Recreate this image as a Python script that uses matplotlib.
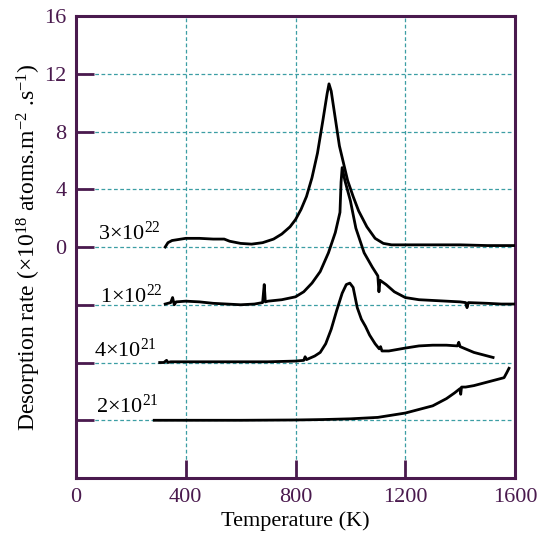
import numpy as np
import matplotlib
matplotlib.use("Agg")
import matplotlib.pyplot as plt

plt.rcParams['font.family'] = ['Liberation Serif', 'DejaVu Serif']
plt.rcParams['mathtext.fontset'] = 'custom'
plt.rcParams['mathtext.rm'] = 'Liberation Serif'
plt.rcParams['mathtext.it'] = 'Liberation Serif:italic'

# fluence labels and the vertical offset each curve is shifted by
labels = [r'3$\times$10$^{22}$', r'1$\times$10$^{22}$', r'4$\times$10$^{21}$', r'2$\times$10$^{21}$']
offsets = [0, -4, -8, -12]

# 3x10^22
t1 = [325, 335, 350, 400, 450, 500, 540, 560, 600, 640, 680, 720, 750, 780, 800, 820, 840, 860,
      880, 900, 915, 922, 930, 945, 960, 975, 990, 1010, 1030, 1060, 1090, 1120, 1150, 1200,
      1300, 1400, 1500, 1600]
r1 = [0, 0.3, 0.45, 0.6, 0.6, 0.55, 0.55, 0.4, 0.25, 0.2, 0.3, 0.55, 0.9, 1.4, 1.9, 2.6, 3.5, 4.8,
      6.5, 8.8, 10.6, 11.3, 10.8, 8.9, 7.0, 5.8, 4.6, 3.5, 2.5, 1.4, 0.6, 0.25, 0.15, 0.15,
      0.15, 0.15, 0.1, 0.1]

# 1x10^22
t2 = [325, 345, 352, 358, 365, 400, 450, 500, 550, 600, 650, 680, 686, 690, 700, 750, 800, 830,
      860, 890, 920, 945, 962, 966, 970, 980, 1000, 1020, 1050, 1080, 1100, 1104, 1108, 1115,
      1130, 1160, 1200, 1250, 1300, 1350, 1400, 1420, 1425, 1430, 1500, 1550, 1600]
r2 = [0.05, 0.15, 0.5, 0.0, 0.2, 0.25, 0.2, 0.1, 0.05, 0.0, 0.05, 0.15, 1.4, 0.2, 0.25, 0.35, 0.55, 0.9,
      1.5, 2.3, 3.6, 5.0, 6.4, 8.5, 9.5, 8.6, 7.2, 5.3, 3.6, 2.6, 2.0, 0.9, 1.7, 1.6,
      1.4, 0.9, 0.5, 0.35, 0.3, 0.25, 0.2, 0.15, -0.2, 0.15, 0.1, 0.05, 0.05]

# 4x10^21
t3 = [305, 320, 330, 335, 345, 400, 500, 600, 700, 800, 830, 835, 840, 870, 890, 910, 930, 950,
      970, 985, 998, 1010, 1025, 1040, 1055, 1070, 1090, 1105, 1110, 1115, 1140, 1200, 1250,
      1300, 1350, 1390, 1395, 1400, 1450, 1490, 1520]
r3 = [0, 0.0, 0.15, 0.0, 0.05, 0.05, 0.05, 0.05, 0.05, 0.1, 0.15, 0.4, 0.2, 0.45, 0.7, 1.3, 2.3, 3.6,
      4.8, 5.4, 5.5, 5.2, 3.8, 3.0, 2.5, 1.9, 1.3, 0.95, 1.1, 0.8, 0.8, 1.0, 1.15,
      1.2, 1.2, 1.15, 1.4, 1.1, 0.7, 0.5, 0.35]

# 2x10^21
t4 = [285, 400, 600, 800, 900, 1000, 1050, 1100, 1150, 1200, 1250, 1300, 1350, 1380, 1400, 1402,
      1405, 1420, 1450, 1480, 1500, 1530, 1560, 1570, 1578]
r4 = [0, 0, 0, 0.02, 0.05, 0.1, 0.15, 0.2, 0.35, 0.5, 0.75, 1.0, 1.5, 1.9, 2.2, 1.8,
      2.3, 2.3, 2.4, 2.55, 2.65, 2.8, 2.95, 3.3, 3.6]

temps = [t1, t2, t3, t4]
rates = [r1, r2, r3, r4]
label_x = [80, 87, 66, 73]
label_dy = [0.97, 0.6, 0.83, 0.97]

purple = '#4a1a4e'
teal = '#3c9ea4'

fig = plt.figure(figsize=(5.41, 5.46), dpi=100)
ax = fig.add_axes([0.1405, 0.1245, 0.8115, 0.8462])

for t, r, off, lab, lx, dy in zip(temps, rates, offsets, labels, label_x, label_dy):
    ax.plot(t, np.array(r) + off, color='black', lw=2.0, zorder=3)
    ax.text(lx, off + dy, lab, fontsize=16, va='center', ha='left', color='black')

ax.set_xlim(0, 1600)
ax.set_ylim(-16, 16)
ax.set_xticks([0, 400, 800, 1200, 1600])
ax.set_yticks([-12, -8, -4, 0, 4, 8, 12, 16])
ax.set_yticklabels(['', '', '', '0', '4', '8', '12', '16'])

for v in [400, 800, 1200]:
    ax.axvline(v, color=teal, lw=0.9, ls=(0, (3, 2)), zorder=1)
for v in [-12, -8, -4, 0, 4, 8, 12]:
    ax.axhline(v, color=teal, lw=0.9, ls=(0, (3, 2)), zorder=1)

for s in ax.spines.values():
    s.set_color(purple)
    s.set_linewidth(2.2)
ax.tick_params(direction='in', length=13, width=2, color=purple, labelcolor=purple,
               labelsize=16, pad=7)
ax.tick_params(axis='x', top=False)
ax.tick_params(axis='y', right=False)

ax.set_xlabel('Temperature (K)', fontsize=16, labelpad=3)
ax.set_ylabel(r'Desorption rate ($\times$10$^{18}$ atoms.m$^{-2}$ .s$^{-1}$)', fontsize=17, labelpad=1)

fig.savefig('out.png', dpi=100)
